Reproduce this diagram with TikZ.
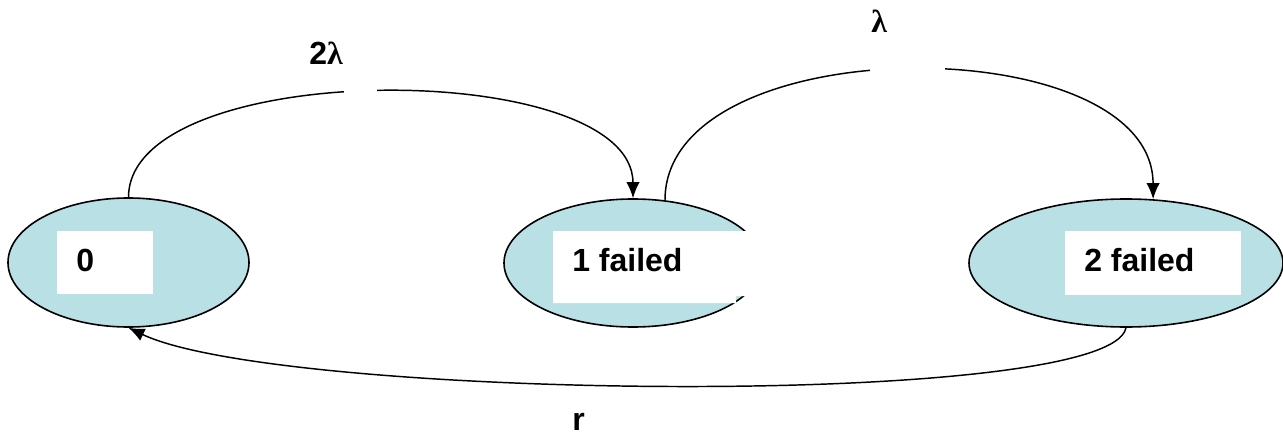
\documentclass[tikz,border=0pt]{standalone}
\usepackage{fontspec}
\setmainfont{Liberation Sans}
\newfontfamily\greekfont{Liberation Serif}
\usetikzlibrary{shapes.geometric,arrows.meta}
\definecolor{statefill}{RGB}{185,224,228}

\begin{document}
\begin{tikzpicture}[
    x=0.75pt, y=-0.75pt,
    state/.style={ellipse, draw, line width=1.2pt, fill=statefill, inner sep=0pt},
    cover/.style={rectangle, fill=white, inner sep=0pt},
    lbl/.style={font=\fontsize{24}{28}\selectfont\bfseries, inner sep=0pt, anchor=base west},
    trans/.style={line width=1.1pt, -{Latex[length=12pt,width=10pt]}}
]
\useasboundingbox (0,0) rectangle (1283,435);

\node[state, minimum width=180.75pt, minimum height=96.75pt] (e0) at (128.5,262.5) {};
\node[state, minimum width=193.5pt, minimum height=96pt] (e1) at (633,263) {};
\node[state, minimum width=235.5pt, minimum height=96pt] (e2) at (1126,263) {};

\node[cover, minimum width=72pt, minimum height=47.25pt] (b0) at (105,262.5) {};
\fill[white] (553,231) -| (770,296) -| (736,303) -| cycle;
\node[cover, minimum width=132pt, minimum height=48pt] (b2) at (1153,263) {};

\node[lbl] (t0) at (76,271) {0};
\node[lbl] (t1) at (572,271) {1 failed};
\node[lbl] (t2) at (1084,271) {2 failed};

\draw[trans] (e0.north) .. controls (129,57) and (633,57) .. (e1.north);
\draw[trans] (e1.63) .. controls (665,27) and (1153,27) .. (e2.67);
\draw[trans] (e2.south) .. controls (1110,410) and (280,400) .. (e0.south);

% gaps in the upper arcs
\fill[white] (344,80) rectangle (377,105);
\fill[white] (870,55) rectangle (945,85);

\node[lbl] (l01) at (309,65) {2{\greekfont λ}};
\node[lbl] (l12) at (871,33) {{\greekfont λ}};
\node[lbl] (l20) at (572,430) {r};
\end{tikzpicture}
\end{document}
